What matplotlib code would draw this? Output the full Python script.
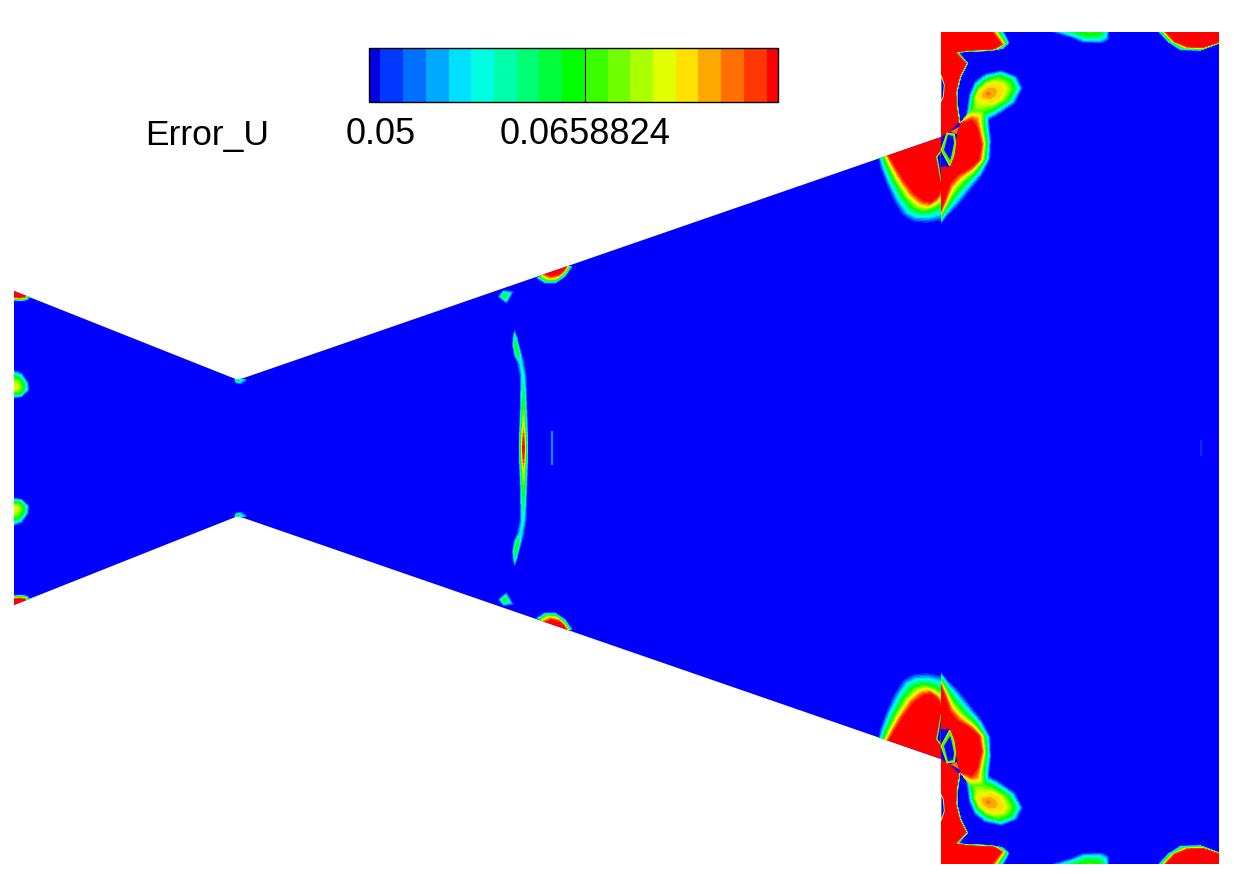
import numpy as np
import matplotlib
matplotlib.use("Agg")
import matplotlib.pyplot as plt
from matplotlib.colors import LinearSegmentedColormap

plt.rcParams['font.family'] = ['Liberation Sans', 'DejaVu Sans']

# contour levels of the colour key
level_low = 0.05
level_high = 0.08
n_levels = 18
tick_values = [0.05, 0.0658824]
tick_labels = ['0.05', '0.0658824']
key_name = 'Error_U'
anchor_colors = ['#0000ff', '#00ffff', '#00ff00', '#ffff00', '#ff0000']
key_under_color = '#0000e0'

mirror_sum = 896
nozzle_x = [14, 238, 941, 941, 1219, 1219, 941, 941, 238, 14]
nozzle_y = [291, 380, 137, 32, 32, 864, 864, 759, 516, 605]

# contour rings: outer edge of the blue, then inner rings
blob_outer = [(988.3, 120), (1000, 113.3), (1015, 102.7), (1022.3, 88.3), (1016.7, 76.7), (1001.7, 70.7),
              (985, 74), (975, 81.7), (969.3, 95), (967.3, 110), (965, 119), (975, 128), (988.3, 120)]
blob_mid = [(981.7, 115), (993.3, 109.3), (1008.3, 100), (1015, 88.3), (1010, 80), (1000, 76),
            (988.3, 79.3), (978.3, 86.7), (973.3, 97.3), (971.7, 109.3), (969.3, 116.7), (975, 120), (981.7, 115)]
blob_yellow = [(985, 101.7), (991.7, 103.3), (1000, 99.3), (1005.7, 90), (1001.7, 84), (993.3, 82.7),
               (985, 85.7), (979.3, 91.7), (977.3, 96), (978.3, 100), (980.7, 101.7), (983.3, 101.7), (985, 101.7)]
blob_core = [(988, 94)] * 13
blob_values = [0.05, 0.064, 0.0725, 0.077]

right_outer = [(941, 223.3), (947.3, 215), (956.7, 206.7), (970, 190), (981.7, 175), (990, 158.3),
               (990.7, 140), (989, 123), (983, 110), (971, 110), (964, 119.3)]
right_inner = [(941, 210), (945, 200), (950.7, 183.3), (958.3, 175), (970, 168.3), (979.3, 160),
               (981.7, 145), (978.3, 130), (975, 123), (971.7, 120), (960, 123.7)]
right_outer_values = [0.05, 0.05, 0.05, 0.05, 0.05, 0.05, 0.05, 0.05, 0.066, 0.066, 0.05]
right_inner_values = [0.08] * 11
right_red_extra = [(955, 143.3), (950, 166.7), (941, 166.7)]

left_outer = [(878.3, 156.7), (880.7, 166.7), (886.7, 183.3), (895, 201.7), (903.3, 215), (913.3, 221),
              (926.7, 222.3), (941, 220)]
left_inner = [(888.3, 155), (895, 166.7), (903.3, 180), (913.3, 193.3), (923.3, 201), (931.7, 202.3),
              (938.3, 196.7), (941, 190)]
left_red_extra = [(941, 137), (885, 150)]

column_outer = [(1003.3, 31), (1009.3, 42.7), (1003.3, 48.3), (991.7, 50.7), (971.7, 51.7), (958.3, 52.3),
                (967.7, 63.3), (961, 76.7), (957.3, 91.7), (958, 106.7), (960.3, 122.7)]
column_inner = [(991.7, 31), (1001.7, 44.3), (993.3, 49), (981.7, 49.7), (970, 50), (955, 52.3),
                (966, 63.3), (959.3, 76.7), (955.7, 91.7), (956.3, 106.7), (958.7, 122.7)]
column_red_extra = [(950, 131.7), (941, 137), (941, 31)]

corner_outer = [(1158, 31), (1168, 42), (1180, 50), (1200, 50.7), (1220, 43)]
corner_inner = [(1165, 31), (1175, 41.7), (1188, 46.7), (1203, 47.3), (1220, 41.7)]
corner_red_extra = [(1220, 31)]

top_outer = [(1050, 31), (1060, 34), (1073, 38), (1083, 42.7), (1102, 43), (1108, 40), (1109, 31)]
top_mid = [(1062, 31), (1068, 33), (1077, 36), (1085, 39), (1099, 39), (1105, 36), (1106, 31)]
top_core = [(1078, 31), (1080, 32), (1083, 34), (1088, 36), (1095, 35), (1100, 33), (1102, 31)]
top_peak = [(1090, 31)] * 7
top_values = [0.05, 0.058, 0.0645, 0.0665]

inlet_corner_outer = [(13, 300.5), (22, 301), (27, 300), (31, 296)]
inlet_corner_inner = [(13, 297), (20, 297.5), (24, 297), (27, 294.5)]
inlet_corner_extra = [(27, 290), (13, 285)]

inlet_outer = [(13, 370), (21.7, 373.3), (28.3, 383.3), (29, 390), (21.7, 396.7), (13, 398.3)]
inlet_mid = [(13, 376), (19, 378), (24, 384), (24, 389), (19, 394), (13, 394)]
inlet_core = [(13, 383), (16, 384), (18, 386), (18, 388), (16, 390), (13, 390)]
inlet_peak = [(13, 386.5)] * 6
inlet_values = [0.05, 0.064, 0.071, 0.073]

throat_outer = [(233, 376), (236, 383), (241, 384), (247, 380), (240, 378), (233, 376)]
throat_core = [(237, 380)] * 6
throat_values = [0.05, 0.064]

diamond_outer = [(503.3, 290), (513.3, 291.7), (506.7, 303.3), (498.3, 296.7), (503.3, 290)]
diamond_core = [(504.5, 296)] * 5
diamond_values = [0.05, 0.066]

wall_outer = [(536.7, 278), (545, 283.3), (555, 283.3), (565, 276.7), (571.7, 266.7)]
wall_mid = [(541, 276.5), (548, 280), (556, 279.5), (564, 273), (569, 266)]
wall_inner = [(545, 273.9), (551.7, 276.5), (560, 274), (564, 270), (566, 267)]
wall_values = [0.05, 0.068, 0.08]
wall_red_extra = [(566, 258), (545, 265)]

# shock, columns left edge / centre / right edge, from the tip to the centreline
shock_y = [330, 337, 345, 355, 362, 375, 390, 410, 425, 435, 448]
shock_left = [514, 513, 512.5, 514, 517, 520, 520, 520, 519.5, 519, 519]
shock_mid = [514.5, 515, 515.5, 518, 520.5, 523, 523.5, 523.5, 523.5, 523.5, 523.5]
shock_right = [515, 517, 519, 522, 524, 526, 526.5, 527, 527.5, 528, 528]
shock_core = [0.05, 0.06, 0.066, 0.064, 0.057, 0.058, 0.062, 0.068, 0.073, 0.079, 0.085]

# small pieces with one value
lens_edge = [(941, 150), (949.7, 166), (954, 155), (955.5, 143), (954.5, 134), (947, 133)]
lens_blue = [(944, 150), (948, 135), (953, 136), (954, 143), (951.5, 155), (950, 160)]
sliver_edge = [(940.5, 150.7), (936, 156.7), (937.7, 165), (941, 183.3)]
sliver_blue = [(940.5, 153), (937.5, 157), (939, 165), (941, 178)]
wall_lens = [(941, 75), (944.3, 85), (943.3, 96.7), (941, 101.7)]
orange_piece = [(950, 131.7), (959.3, 126.7), (956.7, 134)]
trace_a_x, trace_a_y = [551.7, 551.7], [431, 448]
trace_b_x, trace_b_y = [1201, 1201], [440, 448]

levels = np.linspace(level_low, level_high, n_levels)
cmap = LinearSegmentedColormap.from_list('rainbow5', anchor_colors)
band_colors = [cmap(i / 18) for i in range(19)]
field_blue = band_colors[0]
band_colors[0] = key_under_color


def color_of(value):
    return band_colors[int(np.clip(np.searchsorted(levels, value), 0, 18))]


def draw_strip(ax, domain, rings, values):
    pts = np.array(rings, dtype=float)
    X = pts[:, :, 0]
    Y = pts[:, :, 1]
    Z = np.array(values, dtype=float)
    if Z.ndim == 1:
        Z = np.outer(Z, np.ones(X.shape[1]))
    out = []
    for yy in (Y, mirror_sum - Y):
        cs = ax.contourf(X, yy, Z, levels=levels, colors=band_colors, extend='both')
        cs.set_clip_path(domain)
        out.append(cs)
    return out[0]


def draw_piece(ax, domain, piece, color, edge=None):
    pts = np.array(piece, dtype=float)
    for yy in (pts[:, 1], mirror_sum - pts[:, 1]):
        if edge is None:
            p, = ax.fill(pts[:, 0], yy, color=color, lw=0)
        else:
            p, = ax.fill(pts[:, 0], yy, facecolor=color, edgecolor=edge, lw=0.7)
        p.set_clip_path(domain)


fig = plt.figure(figsize=(12.34, 8.74), dpi=100)
ax = fig.add_axes([0, 0, 1, 1])
ax.set_xlim(0, 1234)
ax.set_ylim(874, 0)
ax.axis('off')

domain, = ax.fill(nozzle_x, nozzle_y, color=field_blue, lw=0)
red = band_colors[18]
pale = '#b8f060'

draw_strip(ax, domain, [blob_outer, blob_mid, blob_yellow, blob_core], blob_values)
cs = draw_strip(ax, domain, [right_outer, right_inner], [right_outer_values, right_inner_values])
draw_strip(ax, domain, [left_outer, left_inner], [0.05, 0.08])
draw_strip(ax, domain, [column_outer, column_inner], [0.05, 0.08])
draw_strip(ax, domain, [corner_outer, corner_inner], [0.05, 0.08])
draw_strip(ax, domain, [top_outer, top_mid, top_core, top_peak], top_values)
draw_strip(ax, domain, [inlet_corner_outer, inlet_corner_inner], [0.05, 0.08])
draw_strip(ax, domain, [inlet_outer, inlet_mid, inlet_core, inlet_peak], inlet_values)
draw_strip(ax, domain, [throat_outer, throat_core], throat_values)
draw_strip(ax, domain, [diamond_outer, diamond_core], diamond_values)
draw_strip(ax, domain, [wall_outer, wall_mid, wall_inner], wall_values)

draw_piece(ax, domain, right_inner + right_red_extra, red)
draw_piece(ax, domain, left_inner + left_red_extra, red)
draw_piece(ax, domain, column_inner + column_red_extra, red)
draw_piece(ax, domain, corner_inner + corner_red_extra, red)
draw_piece(ax, domain, inlet_corner_inner + inlet_corner_extra, red)
draw_piece(ax, domain, wall_inner + wall_red_extra, red)

draw_piece(ax, domain, orange_piece, color_of(0.077))
draw_piece(ax, domain, lens_edge, color_of(0.066), edge='#d0f000')
draw_piece(ax, domain, lens_blue, field_blue)
draw_piece(ax, domain, sliver_edge, color_of(0.068))
draw_piece(ax, domain, sliver_blue, field_blue)
draw_piece(ax, domain, wall_lens, field_blue, edge=pale)

# shock, drawn from the centreline table
sy = np.array(shock_y, dtype=float)
sX = np.array([shock_left, shock_mid, shock_right], dtype=float).T
sZ = np.column_stack([np.full(len(sy), 0.05), shock_core, np.full(len(sy), 0.05)])
sY = np.column_stack([sy, sy, sy])
for yy in (sY, mirror_sum - sY):
    shock = ax.contourf(sX, yy, sZ, levels=levels, colors=band_colors, extend='both')
    shock.set_clip_path(domain)

for yy in (np.array(trace_a_y), mirror_sum - np.array(trace_a_y)):
    ax.plot(trace_a_x, yy, color=color_of(0.0545), lw=1.3, solid_capstyle='butt')
for yy in (np.array(trace_b_y), mirror_sum - np.array(trace_b_y)):
    ax.plot(trace_b_x, yy, color=color_of(0.0515), lw=1.2, solid_capstyle='butt')

# colour key
cax = fig.add_axes([369 / 1234, 1 - 102 / 874, 409 / 1234, 54 / 874])
cbar = fig.colorbar(cs, cax=cax, orientation='horizontal', extend='both', extendrect=True,
                    extendfrac=0.0294, spacing='proportional')
cbar.set_ticks(tick_values, labels=tick_labels)
cbar.ax.minorticks_off()
cbar.ax.tick_params(length=0, labelsize=26, pad=11, colors='black')
cbar.ax.axvline(tick_values[1], color='black', lw=0.8)
cbar.outline.set_edgecolor('black')
cbar.outline.set_linewidth(1)
ax.text(145, 135, key_name, fontsize=25.5, ha='left', va='center', color='black')

fig.savefig('out.png', dpi=100)
